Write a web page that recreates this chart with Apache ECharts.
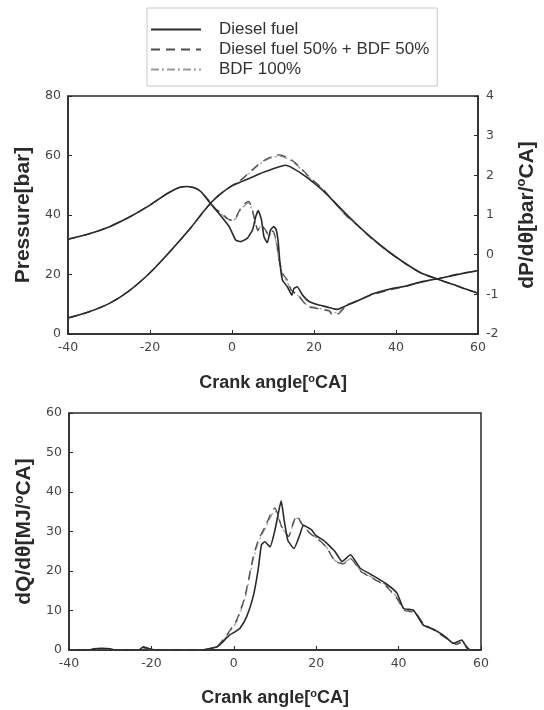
<!DOCTYPE html>
<html>
<head>
<meta charset="utf-8">
<title>Combustion characteristics</title>
<script src="https://cdn.jsdelivr.net/npm/echarts@6/dist/echarts.min.js"></script>
<style>
  html, body { margin: 0; padding: 0; background: #ffffff; }
  #chart { width: 544px; height: 710px; }
</style>
</head>
<body>
<div id="chart"></div>
<script>
// Fuel names (legend order)
const fuels = ['Diesel fuel', 'Diesel fuel 50% + BDF 50%', 'BDF 100%'];

// Axis ticks
const angleTicks = { min: -40, max: 60, interval: 20 };
const pressureTicks = { min: 0, max: 80, interval: 20 };
const dpTicks = { min: -2, max: 4, interval: 1 };
const heatTicks = { min: 0, max: 60, interval: 10 };

// Cylinder pressure [bar] vs crank angle [deg CA]
const pressureDiesel = [
  [-40, 5.4], [-35, 7.4], [-30, 10.2], [-25, 14.6], [-20, 20.6], [-15, 27.9], [-10, 35.8],
  [-7.5, 40.2], [-5, 44.3], [-2.5, 47.4], [0, 49.8], [2.5, 51.3], [5, 52.8], [8, 54.5],
  [11, 56.0], [13, 56.7], [15, 55.6], [18, 52.9], [22, 48.4], [26, 42.9], [30, 37.4],
  [34, 32.4], [38, 27.9], [42, 24.0], [46, 20.6], [50, 18.5], [54, 16.6], [57, 15.1], [60, 13.7]
];
const pressureBlend = [
  [-40, 5.4], [-35, 7.4], [-30, 10.2], [-25, 14.6], [-20, 20.6], [-15, 27.9], [-10, 35.8],
  [-7.5, 40.2], [-5, 44.3], [-2.5, 47.4], [0, 49.9], [2, 51.6], [4, 54.0], [6, 56.5],
  [8, 58.5], [10, 59.8], [11.5, 60.2], [13, 59.6], [15, 58.0], [17, 55.5], [19, 52.6],
  [22, 49.0], [25, 44.2], [28, 39.6], [30, 37.2], [34, 32.2], [38, 27.8], [42, 23.9],
  [46, 20.6], [50, 18.5], [54, 16.6], [57, 15.1], [60, 13.7]
];
const pressureBdf = [
  [-40, 5.4], [-35, 7.4], [-30, 10.2], [-25, 14.6], [-20, 20.6], [-15, 27.9], [-10, 35.8],
  [-7.5, 40.2], [-5, 44.3], [-2.5, 47.4], [0, 49.9], [2, 51.5], [4, 53.8], [6, 56.2],
  [8, 58.2], [10, 59.4], [11.5, 59.8], [13, 59.3], [15, 57.7], [17, 55.2], [19, 52.4],
  [22, 48.8], [25, 44.1], [28, 39.5], [30, 37.2], [34, 32.2], [38, 27.8], [42, 23.9],
  [46, 20.6], [50, 18.5], [54, 16.6], [57, 15.1], [60, 13.7]
];

// Pressure rise rate dP/dtheta [bar/deg CA]
const dpDiesel = [
  [-40, 0.39], [-35, 0.52], [-30, 0.70], [-25, 0.95], [-20, 1.25], [-16, 1.53], [-13, 1.69],
  [-11, 1.72], [-9, 1.68], [-7.5, 1.58], [-5.5, 1.32], [-3.2, 1.04], [-0.7, 0.71], [0.9, 0.37],
  [2.1, 0.33], [3.7, 0.41], [5, 0.62], [5.8, 0.96], [6.4, 1.11], [7.2, 0.87], [7.8, 0.45],
  [8.6, 0.30], [9.4, 0.62], [10.2, 0.71], [10.8, 0.62], [11.3, 0.29], [11.7, -0.22],
  [12.3, -0.64], [13.5, -0.81], [14.6, -1.02], [15.1, -0.85], [15.9, -0.81], [17.2, -1.02],
  [18.8, -1.18], [21.2, -1.27], [23.7, -1.33], [25.7, -1.38], [27.3, -1.31], [29.4, -1.22],
  [32, -1.10], [34.2, -0.99], [38.3, -0.87], [42.4, -0.79], [46.4, -0.68], [50.5, -0.60],
  [54.6, -0.51], [58.6, -0.43], [60, -0.40]
];
const dpBlend = [
  [-40, 0.39], [-35, 0.52], [-30, 0.70], [-25, 0.95], [-20, 1.25], [-16, 1.53], [-13, 1.69],
  [-11, 1.72], [-9, 1.68], [-7.5, 1.58], [-5.5, 1.35], [-4, 1.15], [-2.4, 1.04], [-1, 0.90],
  [0.1, 0.87], [1, 0.95], [2.1, 1.17], [3.3, 1.30], [4.1, 1.34], [4.8, 1.20], [5.5, 0.90],
  [6.3, 0.60], [7, 0.75], [8, 0.65], [9, 0.50], [10, 0.60], [10.8, 0.35], [11.5, -0.13],
  [12.5, -0.50], [13.5, -0.64], [14.5, -0.90], [16, -1.00], [18.4, -1.31], [20.4, -1.35],
  [22, -1.39], [23.7, -1.42], [24.5, -1.52], [26.1, -1.48], [28.1, -1.27], [30.2, -1.18],
  [34, -1.02], [38, -0.90], [42.4, -0.80], [46.4, -0.69], [50.5, -0.60], [54.6, -0.50],
  [58.6, -0.42], [60, -0.39]
];
const dpBdf = [
  [-40, 0.39], [-35, 0.52], [-30, 0.70], [-25, 0.95], [-20, 1.25], [-16, 1.53], [-13, 1.69],
  [-11, 1.72], [-9, 1.68], [-7.5, 1.58], [-5.5, 1.34], [-4, 1.13], [-2.4, 1.00], [-1, 0.88],
  [0.1, 0.85], [1, 0.92], [2.1, 1.12], [3.3, 1.26], [4.1, 1.30], [4.8, 1.15], [5.5, 0.88],
  [6.3, 0.62], [7, 0.72], [8, 0.62], [9, 0.48], [10, 0.56], [10.8, 0.30], [11.5, -0.18],
  [12.5, -0.55], [13.5, -0.70], [14.5, -0.92], [16, -1.02], [18.4, -1.28], [20.4, -1.33],
  [22, -1.37], [23.7, -1.40], [24.5, -1.47], [26.1, -1.44], [28.1, -1.26], [30.2, -1.17],
  [34, -1.01], [38, -0.89], [42.4, -0.80], [46.4, -0.69], [50.5, -0.60], [54.6, -0.50],
  [58.6, -0.42], [60, -0.39]
];

// Heat release rate dQ/dtheta [MJ/deg CA]
const heatDiesel = [
  [-40, 0], [-35, 0], [-34, 0.3], [-32, 0.4], [-30, 0.3], [-29, 0], [-23, 0], [-22, 0.8],
  [-21, 0.5], [-20, 0.2], [-19, 0], [-8, 0], [-6, 0.3], [-4, 0.8], [-3, 1.7], [-1, 3.8],
  [0.3, 4.6], [1.5, 5.5], [3.1, 8.4], [4.7, 13.5], [5.9, 20.3], [6.7, 26.6], [7.5, 27.4],
  [8.8, 26.1], [10, 30.4], [10.8, 34.6], [11.5, 37.8], [12.2, 33.0], [13.1, 27.8],
  [14.6, 25.7], [16, 29.1], [16.9, 31.6], [18.9, 30.4], [19.8, 29.1], [21.7, 27.8],
  [22.6, 27.0], [24.5, 25.0], [26.3, 22.4], [28.3, 24.1], [30.7, 20.7], [33.5, 19.0],
  [36.8, 16.9], [39.6, 14.4], [41.2, 10.5], [43.6, 10.1], [46, 6.3], [48.8, 5.1],
  [51.3, 3.4], [53.3, 1.7], [55.3, 2.5], [56.5, 0.8], [57.5, 0], [60, 0]
];
const heatBlend = [
  [-40, 0], [-35, 0], [-34, 0.2], [-32, 0.3], [-30, 0.2], [-29, 0], [-23, 0], [-22, 0.6],
  [-21, 0.4], [-20, 0], [-8, 0], [-6, 0.3], [-4, 0.9], [-1.7, 3.8], [0.7, 7.6], [2.7, 13.5],
  [4.7, 23.6], [6, 28.0], [7.5, 31.0], [9.2, 35.0], [10, 36.0], [10.8, 34.0], [11.5, 31.5],
  [13.3, 28.7], [14.5, 32.5], [15.3, 34.0], [16.5, 32.0], [18.5, 29.5], [20.5, 28.0],
  [22.5, 26.0], [24.6, 22.4], [26.5, 21.8], [28.5, 23.0], [30.7, 20.0], [33.5, 18.2],
  [36.8, 16.3], [39.6, 13.0], [41.5, 10.0], [44, 9.5], [46, 6.8], [49, 4.7], [51.5, 3.0],
  [54, 1.4], [55.5, 2.0], [57, 0], [60, 0]
];
const heatBdf = [
  [-40, 0], [-35, 0], [-34, 0.2], [-32, 0.3], [-30, 0.2], [-29, 0], [-23, 0], [-22, 0.5],
  [-21, 0.3], [-20, 0], [-8, 0], [-6, 0.3], [-4, 0.9], [-1.7, 3.6], [0.7, 7.2], [2.7, 13.0],
  [4.7, 22.8], [6, 27.4], [7.5, 30.5], [9.2, 34.2], [10, 35.2], [10.8, 33.6], [11.5, 31.2],
  [13.3, 28.9], [14.5, 32.0], [15.3, 33.4], [16.5, 31.8], [18.5, 29.6], [20.5, 28.0],
  [22.5, 26.0], [24.6, 22.6], [26.5, 22.0], [28.5, 23.2], [30.7, 20.2], [33.5, 18.4],
  [36.8, 16.5], [39.6, 13.4], [41.5, 10.2], [44, 9.7], [46, 6.6], [49, 4.8], [51.5, 3.1],
  [54, 1.5], [55.5, 2.1], [57, 0], [60, 0]
];

const FONT = 'Liberation Sans, Arial, sans-serif';
const INK = '#2a2a2a';
const lineStyles = [
  { color: '#2a2a2a', width: 1.6, type: 'solid' },
  { color: '#4d4d4d', width: 1.3, type: [9, 6] },
  { color: '#9a9a9a', width: 1.2, type: [8, 3, 2, 3] }
];

function nameStyle(size) {
  return {
    fontFamily: FONT, fontWeight: 'bold', fontSize: size, color: INK,
    rich: { o: { fontFamily: FONT, fontWeight: 'bold', fontSize: Math.round(size * 0.6), color: INK,
                 padding: [0, 0, Math.round(size * 0.5), 0] } }
  };
}
const labelStyle = { fontFamily: 'DejaVu Sans, sans-serif', fontSize: 12.5, color: '#444' };
const frameLine = { show: true, onZero: false, lineStyle: { color: INK, width: 1.5 } };
const innerTick = { show: true, inside: true, length: 4, lineStyle: { color: INK, width: 1 } };

function angleAxis(gridIndex, gap) {
  return {
    type: 'value', gridIndex: gridIndex,
    min: angleTicks.min, max: angleTicks.max, interval: angleTicks.interval,
    name: 'Crank angle[{o|o}CA]', nameLocation: 'middle', nameGap: gap,
    nameTextStyle: nameStyle(18),
    axisLine: frameLine, axisTick: innerTick,
    axisLabel: Object.assign({ margin: 7 }, labelStyle),
    splitLine: { show: false }
  };
}

function makeSeries(name, idx, data, xIdx, yIdx, smooth) {
  const ls = lineStyles[idx];
  return {
    name: name, type: 'line', xAxisIndex: xIdx, yAxisIndex: yIdx,
    data: data, symbol: 'none', smooth: smooth, z: 10 - idx,
    lineStyle: { color: ls.color, width: ls.width, type: ls.type },
    itemStyle: { color: ls.color },
    emphasis: { disabled: true }
  };
}

const chart = echarts.init(document.getElementById('chart'), null, { renderer: 'canvas' });
chart.setOption({
  animation: false,
  backgroundColor: '#ffffff',
  legend: {
    data: fuels,
    orient: 'vertical',
    left: 147, top: 8,
    padding: [13, 8, 8, 3],
    itemGap: 3,
    itemWidth: 50, itemHeight: 16,
    backgroundColor: '#ffffff',
    borderColor: '#c8c8c8', borderWidth: 1,
    itemStyle: { opacity: 0 },
    textStyle: { fontFamily: FONT, fontSize: 17, color: '#333', padding: [0, 0, 0, 13] },
    selectedMode: false
  },
  grid: [
    { left: 68, top: 96, width: 410, height: 238, show: true, borderColor: INK, borderWidth: 1.5,
      containLabel: false, outerBoundsMode: 'none' },
    { left: 69, top: 413, width: 412, height: 237, show: true, borderColor: INK, borderWidth: 1.5,
      containLabel: false, outerBoundsMode: 'none' }
  ],
  xAxis: [angleAxis(0, 39), angleAxis(1, 38)],
  yAxis: [
    {
      type: 'value', gridIndex: 0, position: 'left',
      min: pressureTicks.min, max: pressureTicks.max, interval: pressureTicks.interval,
      name: 'Pressure[bar]', nameLocation: 'middle', nameGap: 34, nameRotate: 90,
      nameTextStyle: nameStyle(21),
      axisLine: frameLine, axisTick: innerTick,
      axisLabel: Object.assign({ margin: 7 }, labelStyle),
      splitLine: { show: false }
    },
    {
      type: 'value', gridIndex: 0, position: 'right',
      min: dpTicks.min, max: dpTicks.max, interval: dpTicks.interval,
      name: 'dP/d\u03b8[bar/{o|o}CA]', nameLocation: 'middle', nameGap: 37, nameRotate: 90,
      nameTextStyle: nameStyle(21),
      axisLine: frameLine, axisTick: innerTick,
      axisLabel: Object.assign({ margin: 8 }, labelStyle),
      splitLine: { show: false }
    },
    {
      type: 'value', gridIndex: 1, position: 'left',
      min: heatTicks.min, max: heatTicks.max, interval: heatTicks.interval,
      name: 'dQ/d\u03b8[MJ/{o|o}CA]', nameLocation: 'middle', nameGap: 31, nameRotate: 90,
      nameTextStyle: nameStyle(21),
      axisLine: frameLine, axisTick: innerTick,
      axisLabel: Object.assign({ margin: 7 }, labelStyle),
      splitLine: { show: false }
    }
  ],
  series: [
    makeSeries(fuels[2], 2, pressureBdf, 0, 0, 0.3),
    makeSeries(fuels[1], 1, pressureBlend, 0, 0, 0.3),
    makeSeries(fuels[0], 0, pressureDiesel, 0, 0, 0.3),
    makeSeries(fuels[2], 2, dpBdf, 0, 1, 0.15),
    makeSeries(fuels[1], 1, dpBlend, 0, 1, 0.15),
    makeSeries(fuels[0], 0, dpDiesel, 0, 1, 0.15),
    makeSeries(fuels[2], 2, heatBdf, 1, 2, 0.15),
    makeSeries(fuels[1], 1, heatBlend, 1, 2, 0.15),
    makeSeries(fuels[0], 0, heatDiesel, 1, 2, 0.15)
  ]
});
</script>
</body>
</html>
